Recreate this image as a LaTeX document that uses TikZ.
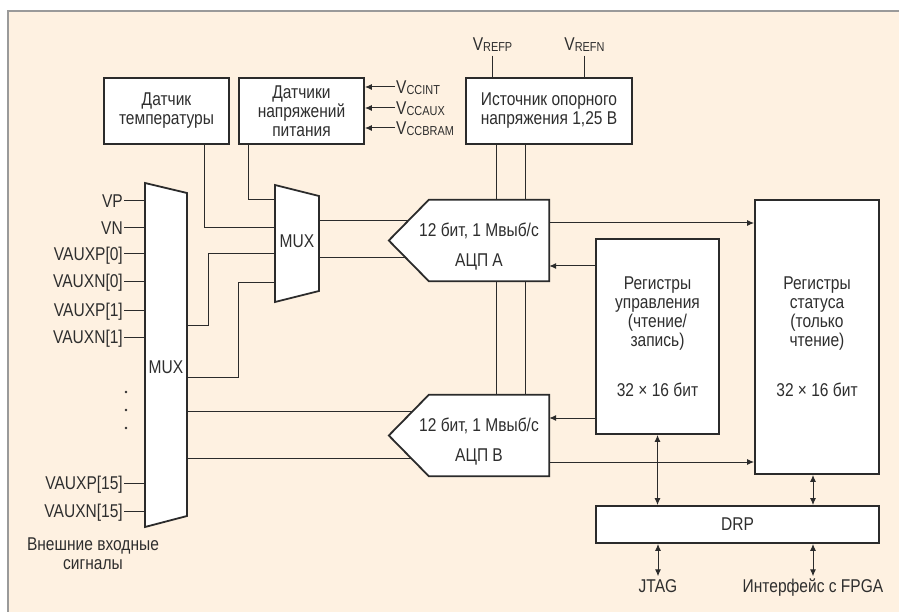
\documentclass[tikz,border=0pt]{standalone}
\usepackage{fontspec}
\setmainfont{Liberation Sans}[FakeStretch=0.84]
\usetikzlibrary{arrows.meta,calc,positioning}
\definecolor{XadcInk}{HTML}{2B2B2B}
\definecolor{XadcText}{HTML}{2E2E2E}
\definecolor{XadcPaper}{HTML}{FEF1E1}
\definecolor{XadcFrame}{HTML}{9A9A9A}
\newcommand{\vsub}[1]{V\raisebox{-1.5pt}{\fontsize{13}{13}\selectfont #1}}
\pgfdeclarelayer{paper}
\pgfdeclarelayer{wires}
\pgfsetlayers{paper,wires,main}
\tikzset{
  block/.style={draw=XadcInk, line width=1.8pt, fill=white, text=XadcText,
    align=center, inner sep=2pt},
  adcbody/.style={minimum width=120pt, minimum height=81pt, inner sep=0pt},
  outline/.style={draw=XadcInk, line width=1.8pt, fill=white, line join=miter},
  plain/.style={text=XadcText, inner sep=1pt, text height=13pt, text depth=0pt},
  para/.style={text=XadcText, inner sep=1pt, align=center},
  wire/.style={draw=XadcInk, line width=1pt},
  arr/.style={wire, -{Latex[length=7pt,width=6pt]}},
  darr/.style={wire, {Latex[length=7pt,width=6pt]}-{Latex[length=7pt,width=6pt]}}
}

\begin{document}
\begin{tikzpicture}[x=1pt,y=-1pt,font=\fontsize{18.5}{19}\selectfont]
  \useasboundingbox (0,0) rectangle (899,612);

  \begin{pgfonlayer}{paper}
    \fill[XadcPaper] (8,11) rectangle (899,612);
    \draw[XadcFrame,line width=2.5pt] (8,612) -- (8,11) -- (899,11);
  \end{pgfonlayer}

  % sensors and reference
  \node[block, minimum width=125pt, minimum height=66pt] (temp) at (166.5,111)
    {Датчик\\температуры};
  \node[block, minimum width=125pt, minimum height=66pt] (volt) at (301.5,111)
    {Датчики\\напряжений\\питания};
  \node[block, minimum width=166pt, minimum height=66pt] (ref) at (549,111)
    {Источник опорного\\напряжения 1,25 В};

  \foreach \yy/\lab [count=\i] in {87/CCINT, 108/CCAUX, 128/CCBRAM}{
    \node[plain, anchor=west] (vcc\i) at (395,\yy) {\vsub{\lab}};
    \draw[arr] (vcc\i.west) -- (vcc\i.west -| volt.east);
  }

  \node[plain] (vrefp) at (492.5,44) {\vsub{REFP}};
  \node[plain] (vrefn) at (584.5,44) {\vsub{REFN}};

  % multiplexers
  \draw[outline] (145,183) coordinate (muxL-nw) -- (187,193) coordinate (muxL-ne)
    -- (187,516) -- (145,527) -- cycle;
  \node[plain] (muxL) at (166,367) {MUX};
  \draw[outline] (275,185) coordinate (muxS-nw) -- (319,196) coordinate (muxS-ne)
    -- (319,291) -- (275,302) -- cycle;
  \node[plain] (muxS) at (297,241) {MUX};

  \foreach \yy/\lab [count=\i] in {201/VP, 228/VN, 254/{VAUXP[0]}, 281/{VAUXN[0]},
      310/{VAUXP[1]}, 337/{VAUXN[1]}, 483/{VAUXP[15]}, 511/{VAUXN[15]}}{
    \node[plain, anchor=east] (in\i) at (124,\yy) {\lab};
    \draw[wire] (in\i.east) -- (in\i.east -| muxL-nw);
  }
  \foreach \yy in {392,410,428}
    \fill[XadcText] (126,\yy) circle[radius=1.3pt];

  \node[para] (ext) at (93,554) {Внешние входные\\сигналы};

  % converters
  \foreach \name/\yy/\lab in {adcA/240.5/A, adcB/435.5/B}{
    \node[adcbody] (\name) at (489,\yy) {};
    \draw[outline] (\name.north west) -- (\name.north east) -- (\name.south east)
      -- (\name.south west) -- ($(\name.west)+(-40,0)$) -- cycle;
    \node[para] (\name-txt) at ($(\name.center)+(-10,6.5)$)
      {12 бит, 1 Мвыб/с\\[11pt]АЦП \lab};
  }

  % registers
  \node[block, minimum width=123pt, minimum height=195pt] (ctrl) at (657.5,336.5)
    {Регистры\\управления\\(чтение/\\запись)\\[31pt]32 × 16 бит};
  \node[block, minimum width=124pt, minimum height=274pt] (stat) at (817,337)
    {Регистры\\статуса\\(только\\чтение)\\[31pt]32 × 16 бит};
  \node[block, minimum width=283pt, minimum height=37pt] (drp) at (737.5,524.5) {DRP};

  \node[plain] (jtag) at (658,586) {JTAG};
  \node[plain] (fpga) at (813,586) {Интерфейс с FPGA};

  \begin{pgfonlayer}{wires}
    \draw[wire] (vrefp.south) ++(0,4) -- (vrefp.south |- ref.north);
    \draw[wire] (vrefn.south) ++(0,4) -- (vrefn.south |- ref.north);
    \draw[wire] ($(ref.south west)+(31,0)$) -- ($(ref.south west |- adcB.north)+(31,0)$);
    \draw[wire] ($(ref.south west)+(60,0)$) -- ($(ref.south west |- adcB.north)+(60,0)$);

    \draw[wire] ($(volt.south west)+(10,0)$) |- (muxS-nw |- 0,200);
    \draw[wire] ($(temp.south west)+(101,0)$) |- (muxS-nw |- 0,228);
    \draw[wire] (muxL-ne |- 0,325) -| (208,254) -- (muxS-nw |- 0,254);
    \draw[wire] (muxL-ne |- 0,377) -| (238,282) -- (muxS-nw |- 0,282);

    \draw[wire] (muxS-ne |- 0,221) -- (adcA.west |- 0,221);
    \draw[wire] (muxS-ne |- 0,258) -- (adcA.west |- 0,258);
    \draw[wire] (muxL-ne |- 0,411) -- (adcB.west |- 0,411);
    \draw[wire] (muxL-ne |- 0,458) -- (adcB.west |- 0,458);
  \end{pgfonlayer}

  \draw[arr] ($(adcA.east)+(0,-17.5)$) -- ($(adcA.east -| stat.west)+(0,-17.5)$);
  \draw[arr] ($(adcB.east)+(0,26.5)$) -- ($(adcB.east -| stat.west)+(0,26.5)$);
  \draw[arr] ($(ctrl.west)+(0,-70.5)$) -- ($(ctrl.west -| adcA.east)+(0,-70.5)$);
  \draw[arr] ($(ctrl.west)+(0,81.5)$) -- ($(ctrl.west -| adcB.east)+(0,81.5)$);

  \draw[darr] (ctrl.south) -- (ctrl.south |- drp.north);
  \draw[darr] (stat.south -| fpga.north) -- (drp.north -| fpga.north);
  \draw[darr] (drp.south -| jtag.north) -- ([yshift=2pt]jtag.north);
  \draw[darr] (drp.south -| fpga.north) -- ([yshift=2pt]fpga.north);

\end{tikzpicture}
\end{document}
